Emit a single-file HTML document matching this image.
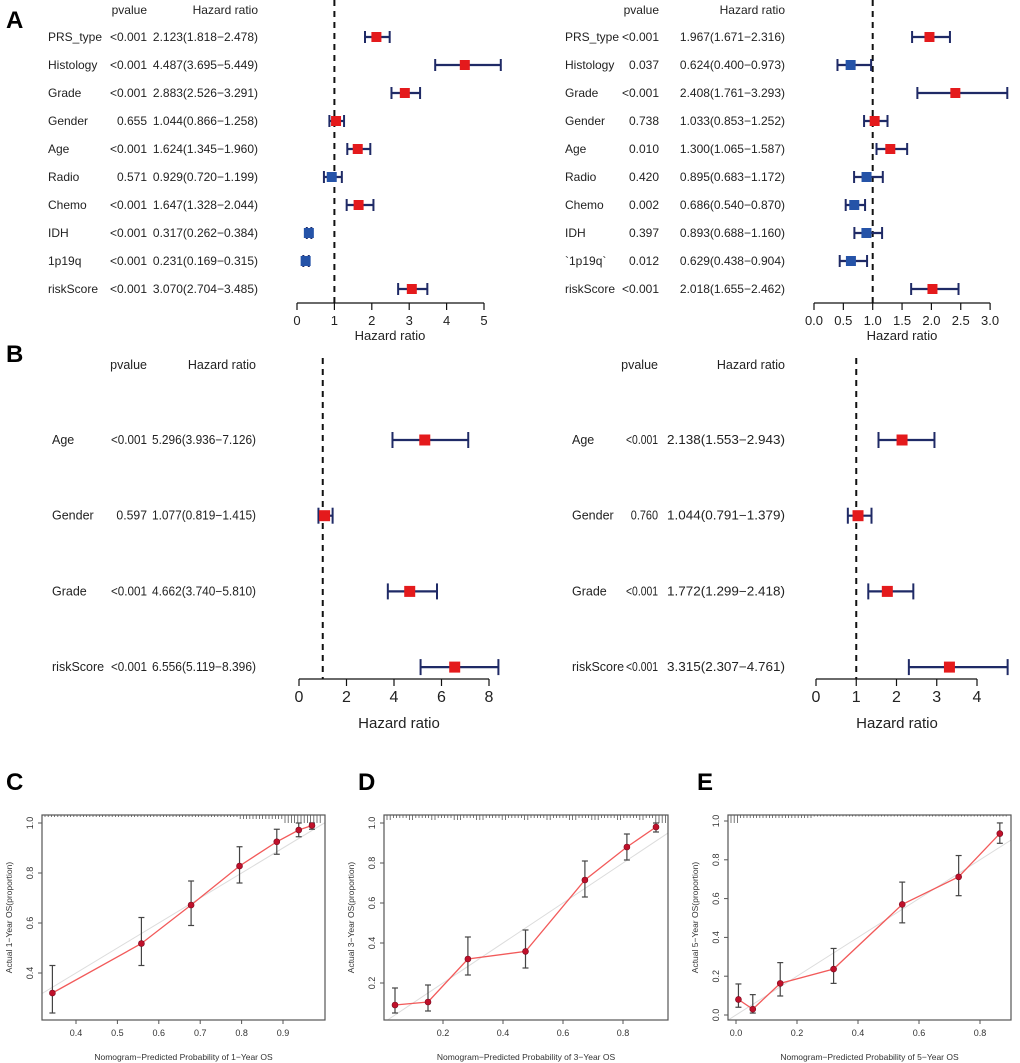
<!DOCTYPE html>
<html><head><meta charset="utf-8">
<style>
html,body{margin:0;background:#fff;overflow:hidden;width:1020px;height:1063px;}
svg{display:block;font-family:"Liberation Sans",Arial,sans-serif;}
</style></head>
<body>
<svg id="fig" width="1020" height="1063" viewBox="0 0 1020 1063">
<text x="6" y="28" font-size="24" font-weight="bold">A</text>
<text x="6" y="362" font-size="24" font-weight="bold">B</text>
<text x="6" y="790" font-size="24" font-weight="bold">C</text>
<text x="358" y="790" font-size="24" font-weight="bold">D</text>
<text x="697" y="790" font-size="24" font-weight="bold">E</text>
</svg>
<script>
// ---- Forest data ----
const aLeftVars = ["PRS_type","Histology","Grade","Gender","Age","Radio","Chemo","IDH","1p19q","riskScore"];
const aLeftP = ["<0.001","<0.001","<0.001","0.655","<0.001","0.571","<0.001","<0.001","<0.001","<0.001"];
const aLeftHR = [2.123,4.487,2.883,1.044,1.624,0.929,1.647,0.317,0.231,3.070];
const aLeftLo = [1.818,3.695,2.526,0.866,1.345,0.720,1.328,0.262,0.169,2.704];
const aLeftHi = [2.478,5.449,3.291,1.258,1.960,1.199,2.044,0.384,0.315,3.485];
const aLeftTicks = [0,1,2,3,4,5];

const aRightVars = ["PRS_type","Histology","Grade","Gender","Age","Radio","Chemo","IDH","`1p19q`","riskScore"];
const aRightP = ["<0.001","0.037","<0.001","0.738","0.010","0.420","0.002","0.397","0.012","<0.001"];
const aRightHR = [1.967,0.624,2.408,1.033,1.300,0.895,0.686,0.893,0.629,2.018];
const aRightLo = [1.671,0.400,1.761,0.853,1.065,0.683,0.540,0.688,0.438,1.655];
const aRightHi = [2.316,0.973,3.293,1.252,1.587,1.172,0.870,1.160,0.904,2.462];
const aRightTicks = ["0.0","0.5","1.0","1.5","2.0","2.5","3.0"];

const bLeftVars = ["Age","Gender","Grade","riskScore"];
const bLeftP = ["<0.001","0.597","<0.001","<0.001"];
const bLeftHR = [5.296,1.077,4.662,6.556];
const bLeftLo = [3.936,0.819,3.740,5.119];
const bLeftHi = [7.126,1.415,5.810,8.396];
const bLeftTicks = [0,2,4,6,8];

const bRightVars = ["Age","Gender","Grade","riskScore"];
const bRightP = ["<0.001","0.760","<0.001","<0.001"];
const bRightHR = [2.138,1.044,1.772,3.315];
const bRightLo = [1.553,0.791,1.299,2.307];
const bRightHi = [2.943,1.379,2.418,4.761];
const bRightTicks = [0,1,2,3,4];

// ---- Calibration data ----
const cPred = [0.343,0.558,0.678,0.795,0.885,0.938,0.970];
const cObs = [0.320,0.518,0.672,0.828,0.925,0.972,0.990];
const cLo = [0.240,0.430,0.590,0.760,0.875,0.945,0.975];
const cHi = [0.430,0.622,0.768,0.905,0.975,1.000,1.000];
const cXTicks = [0.4,0.5,0.6,0.7,0.8,0.9];
const cYTicks = [0.4,0.6,0.8,1.0];

const dPred = [0.040,0.150,0.283,0.475,0.673,0.813,0.910];
const dObs = [0.090,0.105,0.320,0.358,0.715,0.880,0.980];
const dLo = [0.050,0.060,0.240,0.275,0.630,0.815,0.955];
const dHi = [0.175,0.190,0.430,0.465,0.810,0.945,1.000];
const dXTicks = [0.2,0.4,0.6,0.8];
const dYTicks = [0.2,0.4,0.6,0.8,1.0];

const ePred = [0.008,0.055,0.145,0.320,0.545,0.730,0.865];
const eObs = [0.080,0.030,0.163,0.237,0.570,0.712,0.935];
const eLo = [0.040,0.010,0.098,0.163,0.475,0.615,0.885];
const eHi = [0.160,0.105,0.270,0.343,0.685,0.822,0.990];
const eXTicks = [0.0,0.2,0.4,0.6,0.8];
const eYTicks = [0.0,0.2,0.4,0.6,0.8,1.0];

const NS = "http://www.w3.org/2000/svg";
const svg = document.getElementById("fig");
function mk(tag, attrs, parent){
  const e = document.createElementNS(NS, tag);
  for (const k in attrs) e.setAttribute(k, attrs[k]);
  (parent||svg).appendChild(e);
  return e;
}
function txt(x,y,s,size,anchor,parent,extra){
  const t = mk("text",{x:x,y:y,"font-size":size,"text-anchor":anchor||"start",fill:"#222"},parent);
  if(extra) for(const k in extra) t.setAttribute(k,extra[k]);
  t.textContent = s;
  return t;
}

function forest(cfg){
  const g = mk("g",{});
  
  
  const sx = v => cfg.x0 + (v - cfg.t0) * cfg.ppu;
  const h1 = txt(cfg.pRight, cfg.headY, "pvalue", cfg.fs, "end", g);
  
  
  const h2 = txt(cfg.hrRight, cfg.headY, "Hazard ratio", cfg.fs, "end", g);
  
  
  const dl = mk("line",{x1:sx(1),x2:sx(1),y1:cfg.dashTop,y2:cfg.axisY,stroke:"#111","stroke-width":2,"stroke-dasharray":"6,5"},g);
  
  
  cfg.vars.forEach((v,i)=>{
    const y = cfg.rowY0 + i*cfg.rowDy;
    const r = mk("g",{},g);
    
    
    txt(cfg.labelX, y+4, v, cfg.fs, "start", r);
    const pe = {};
    if (cfg.pWidth) { pe.textLength = cfg.p[i].length>5 ? cfg.pWidth : cfg.pWidth*0.85; pe.lengthAdjust = "spacingAndGlyphs"; }
    txt(cfg.pRight, y+4, cfg.p[i], cfg.fs, "end", r, pe);
    const he = {};
    if (cfg.hrWidth) { he.textLength = cfg.hrWidth; he.lengthAdjust = "spacingAndGlyphs"; }
    txt(cfg.hrRight, y+4, cfg.hr[i].toFixed(3)+"("+cfg.lo[i].toFixed(3)+"\u2212"+cfg.hi[i].toFixed(3)+")", cfg.fs, "end", r, he);
    const x1 = sx(cfg.lo[i]), x2 = sx(cfg.hi[i]);
    mk("line",{x1:x1,x2:x2,y1:y,y2:y,stroke:"#1f2a66","stroke-width":2.2},r);
    mk("line",{x1:x1,x2:x1,y1:y-cfg.cap,y2:y+cfg.cap,stroke:"#1f2a66","stroke-width":2},r);
    mk("line",{x1:x2,x2:x2,y1:y-cfg.cap,y2:y+cfg.cap,stroke:"#1f2a66","stroke-width":2},r);
    const s = cfg.sq;
    const sqEl = mk("rect",{x:sx(cfg.hr[i])-s/2,y:y-s/2,width:s,height:s,fill:cfg.hr[i]<1?"#2553a8":"#e41a1c"},r);
    
    
  });
  const ax = mk("g",{},g);
  
  
  const tv = cfg.ticks.map(Number);
  mk("line",{x1:sx(tv[0]),x2:sx(tv[tv.length-1]),y1:cfg.axisY,y2:cfg.axisY,stroke:"#111","stroke-width":1.2},ax);
  cfg.ticks.forEach(t=>{
    const x = sx(Number(t));
    mk("line",{x1:x,x2:x,y1:cfg.axisY,y2:cfg.axisY+7,stroke:"#111","stroke-width":1.2},ax);
    txt(x, cfg.axisY+cfg.tickDy, String(t), cfg.tfs, "middle", ax);
  });
  const at = txt(cfg.axTitleX, cfg.axisY+cfg.axTitleDy, "Hazard ratio", cfg.afs, "middle", ax);
  
  
}

forest({name:"forest-a-univariate",vars:aLeftVars,p:aLeftP,hr:aLeftHR,lo:aLeftLo,hi:aLeftHi,ticks:aLeftTicks,
  x0:297,t0:0,ppu:37.4,axisY:303,rowY0:37,rowDy:28,labelX:48,pRight:147,hrRight:258,headY:14,dashTop:0,
  fs:12,tfs:13,afs:13,tickDy:22,axTitleX:390,axTitleDy:37,cap:6,sq:10});
forest({name:"forest-a-multivariate",vars:aRightVars,p:aRightP,hr:aRightHR,lo:aRightLo,hi:aRightHi,ticks:aRightTicks,
  x0:814,t0:0,ppu:58.7,axisY:303,rowY0:37,rowDy:28,labelX:565,pRight:659,hrRight:785,headY:14,dashTop:0,
  fs:12,tfs:13,afs:13,tickDy:22,axTitleX:902,axTitleDy:37,cap:6,sq:10});
forest({name:"forest-b-univariate",vars:bLeftVars,p:bLeftP,hr:bLeftHR,lo:bLeftLo,hi:bLeftHi,ticks:bLeftTicks,
  x0:299,t0:0,ppu:23.75,axisY:679,rowY0:440,rowDy:75.7,labelX:52,pRight:147,hrRight:256,headY:369,dashTop:358,
  fs:12.5,tfs:16,afs:15,tickDy:23,axTitleX:399,axTitleDy:49,cap:8,sq:11,hrWidth:104,pWidth:36});
forest({name:"forest-b-multivariate",vars:bRightVars,p:bRightP,hr:bRightHR,lo:bRightLo,hi:bRightHi,ticks:bRightTicks,
  x0:816,t0:0,ppu:40.25,axisY:679,rowY0:440,rowDy:75.7,labelX:572,pRight:658,hrRight:785,headY:369,dashTop:358,
  fs:12.5,tfs:16,afs:15,tickDy:23,axTitleX:897,axTitleDy:49,cap:8,sq:11,hrWidth:118,pWidth:32});

function calib(cfg){
  const g = mk("g",{});
  
  
  const sx = v => cfg.xa + (v - cfg.xv) * cfg.xppu;
  const sy = v => cfg.ya - (v - cfg.yv) * cfg.yppu;
  const b = cfg.box;
  const clip = "clip-"+cfg.name;
  const cp = mk("clipPath",{id:clip},g);
  mk("rect",{x:b[0],y:b[1],width:b[2]-b[0],height:b[3]-b[1]},cp);
  const il = mk("line",{x1:sx(-0.5),y1:sy(-0.5),x2:sx(1.5),y2:sy(1.5),stroke:"#dcdcdc","stroke-width":1,"clip-path":"url(#"+clip+")"},g);
  
  
  for(let x=b[0]+3;x<b[2]-2;x+=3.2){
    const t = (x-b[0])/(b[2]-b[0]);
    const len = cfg.rug(t);
    mk("line",{x1:x,x2:x,y1:b[1],y2:b[1]+len,stroke:"#555","stroke-width":0.8},g);
  }
  const pts = cfg.pred.map((p,i)=>sx(p)+","+sy(cfg.obs[i])).join(" ");
  const pl = mk("polyline",{points:pts,fill:"none",stroke:"#f25a5a","stroke-width":1.3},g);
  
  
  cfg.pred.forEach((p,i)=>{
    const x=sx(p);
    const e = mk("g",{},g);
    
    
    mk("line",{x1:x,x2:x,y1:sy(cfg.lo[i]),y2:sy(cfg.hi[i]),stroke:"#444","stroke-width":1.2},e);
    mk("line",{x1:x-3,x2:x+3,y1:sy(cfg.lo[i]),y2:sy(cfg.lo[i]),stroke:"#444","stroke-width":1.2},e);
    mk("line",{x1:x-3,x2:x+3,y1:sy(cfg.hi[i]),y2:sy(cfg.hi[i]),stroke:"#444","stroke-width":1.2},e);
    mk("circle",{cx:x,cy:sy(cfg.obs[i]),r:3,fill:"#c0102a",stroke:"#7a0a20","stroke-width":0.6},e);
  });
  mk("rect",{x:b[0],y:b[1],width:b[2]-b[0],height:b[3]-b[1],fill:"none",stroke:"#555","stroke-width":1.2},g);
  cfg.xt.forEach(t=>{
    const x=sx(t);
    mk("line",{x1:x,x2:x,y1:b[3],y2:b[3]+4,stroke:"#555","stroke-width":1},g);
    txt(x,b[3]+16,t.toFixed(1),9,"middle",g,{fill:"#333"});
  });
  cfg.yt.forEach(t=>{
    const y=sy(t);
    mk("line",{x1:b[0]-4,x2:b[0],y1:y,y2:y,stroke:"#555","stroke-width":1},g);
    txt(b[0]-9,y,t.toFixed(1),9,"middle",g,{fill:"#333",transform:"rotate(-90 "+(b[0]-9)+" "+y+")"});
  });
  const xt = txt((b[0]+b[2])/2, b[3]+40, cfg.xlab, 8.5, "middle", g, {fill:"#333"});
  
  
  const yx = b[0]-30, yy=(b[1]+b[3])/2;
  const yt = txt(yx, yy, cfg.ylab, 8.5, "middle", g, {fill:"#333",transform:"rotate(-90 "+yx+" "+yy+")"});
  
  
}

calib({name:"calibration-1-year",pred:cPred,obs:cObs,lo:cLo,hi:cHi,xt:cXTicks,yt:cYTicks,
  box:[42,815,325,1020],xa:76,xv:0.4,xppu:414,ya:823,yv:1.0,yppu:250,
  rug:t=>t>0.85?8:(t>0.7?4:2),
  xlab:"Nomogram\u2212Predicted Probability of 1\u2212Year OS",ylab:"Actual 1\u2212Year OS(proportion)"});
calib({name:"calibration-3-year",pred:dPred,obs:dObs,lo:dLo,hi:dHi,xt:dXTicks,yt:dYTicks,
  box:[384,815,668,1020],xa:443,xv:0.2,xppu:300,ya:823,yv:1.0,yppu:200,
  rug:t=>t>0.95?8:(Math.floor(t*37)%3===0?5:3),
  xlab:"Nomogram\u2212Predicted Probability of 3\u2212Year OS",ylab:"Actual 3\u2212Year OS(proportion)"});
calib({name:"calibration-5-year",pred:ePred,obs:eObs,lo:eLo,hi:eHi,xt:eXTicks,yt:eYTicks,
  box:[728,815,1011,1020],xa:736,xv:0.0,xppu:305,ya:821,yv:1.0,yppu:194,
  rug:t=>t<0.04?8:(t<0.3?3:1.5),
  xlab:"Nomogram\u2212Predicted Probability of 5\u2212Year OS",ylab:"Actual 5\u2212Year OS(proportion)"});
</script>
</body></html>
